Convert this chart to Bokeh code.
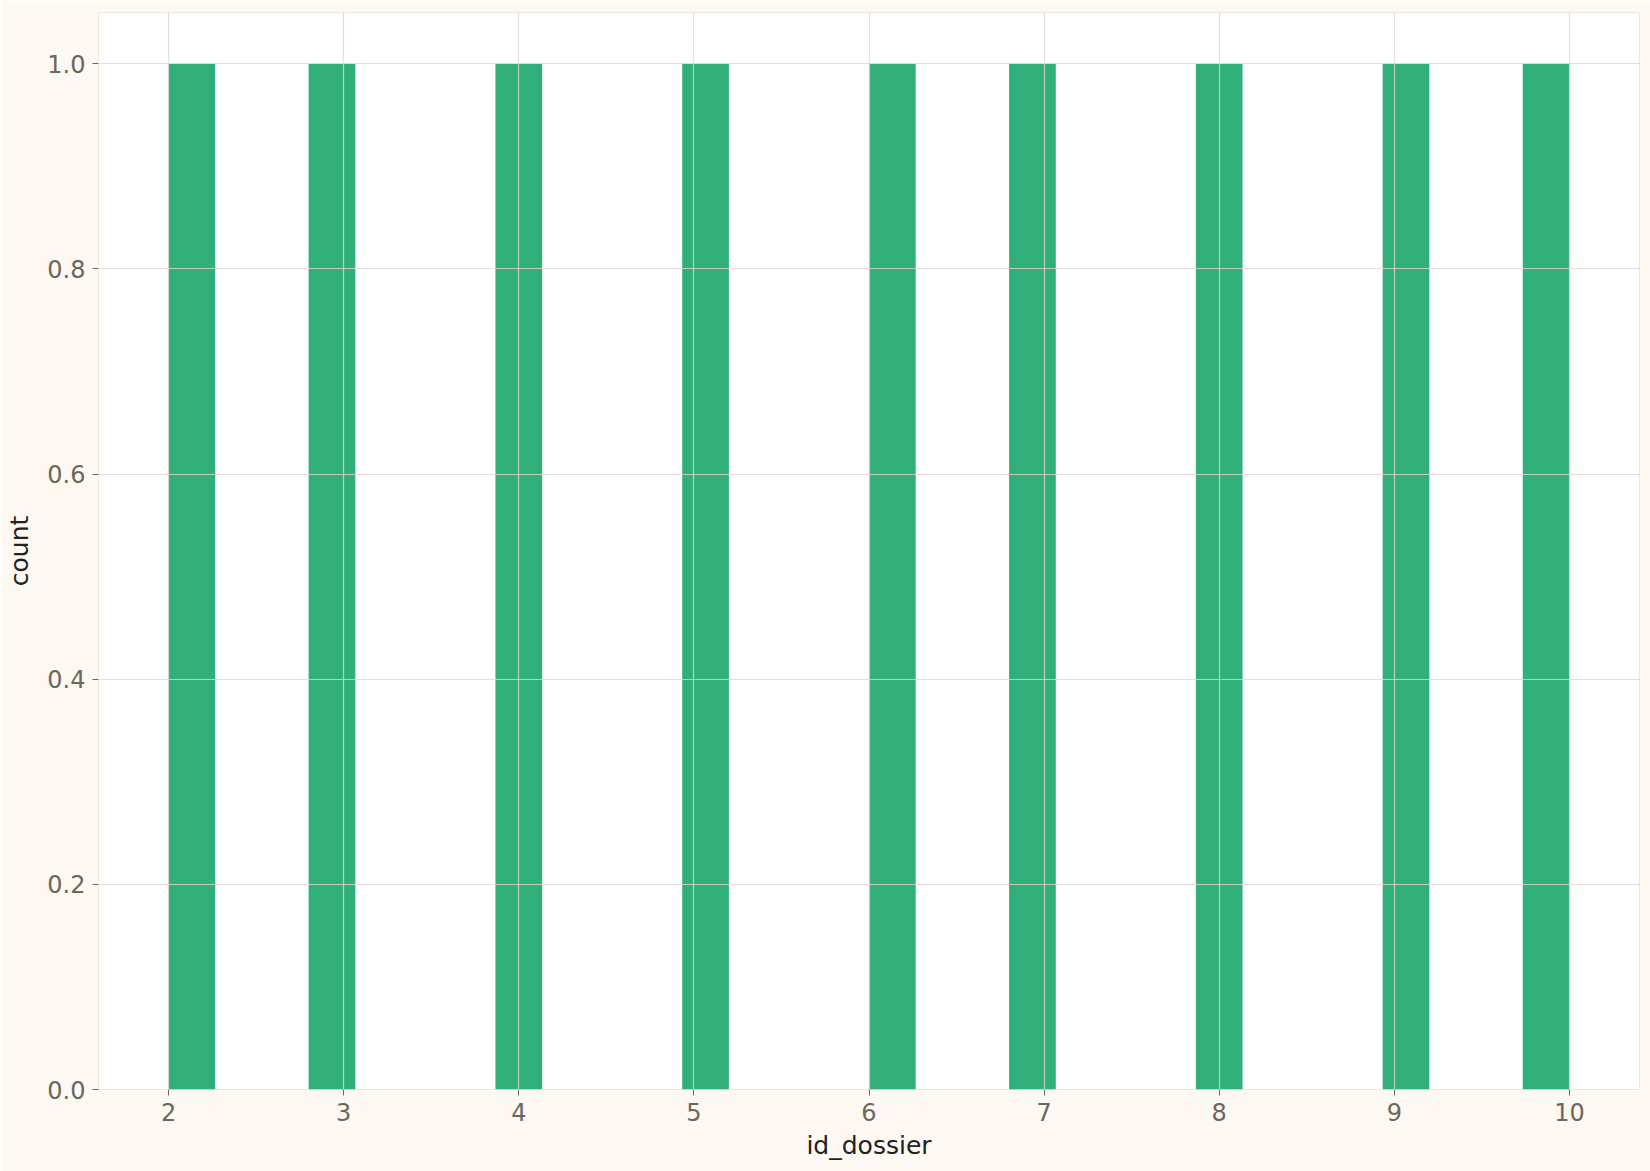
import numpy as np
from bokeh.plotting import figure
from bokeh.models import SingleIntervalTicker, Range1d, ColumnDataSource, PrintfTickFormatter
from bokeh.embed import file_html
from bokeh.resources import INLINE

# data
id_dossier = [2, 3, 4, 5, 6, 7, 8, 9, 10]
n_bins = 30
x_label = "id_dossier"
y_label = "count"

counts, edges = np.histogram(id_dossier, bins=n_bins)
src = ColumnDataSource(dict(left=edges[:-1], right=edges[1:], top=counts, bottom=np.zeros_like(counts)))

FONT = "DejaVu Sans"
p = figure(width=1650, height=1171, output_backend="svg", toolbar_location=None,
           x_range=Range1d(1.6, 10.4), y_range=Range1d(0, 1.05),
           min_border_left=98, min_border_right=11, min_border_top=12, min_border_bottom=82)
p.background_fill_color = "white"
p.border_fill_color = "#fdf8f1"
p.outline_line_color = "#eee6de"

p.quad(left="left", right="right", top="top", bottom="bottom", source=src,
       fill_color="#31af7b", line_color=None)

p.xaxis.ticker = SingleIntervalTicker(interval=1)
p.yaxis.ticker = SingleIntervalTicker(interval=0.2)
p.xgrid.ticker = SingleIntervalTicker(interval=1)
p.ygrid.ticker = SingleIntervalTicker(interval=0.2)
p.yaxis.formatter = PrintfTickFormatter(format="%.1f")

for g in (p.xgrid, p.ygrid):
    g.grid_line_color = "#e2d6cc"
    g.grid_line_alpha = 0.8
    g.grid_line_width = 1.2
    g.level = "overlay"

for ax in (p.xaxis, p.yaxis):
    ax.axis_line_color = None
    ax.major_tick_line_color = "#6b675c"
    ax.major_tick_out = 6
    ax.major_tick_in = 0
    ax.minor_tick_line_color = None
    ax.major_label_text_font = FONT
    ax.major_label_text_font_size = "24px"
    ax.major_label_text_color = "#6b675c"
    ax.axis_label_text_font = FONT
    ax.axis_label_text_font_size = "25px"
    ax.axis_label_text_font_style = "normal"
    ax.axis_label_text_color = "#222222"
    ax.major_label_standoff = 7

p.xaxis.axis_label = x_label
p.yaxis.axis_label = y_label
p.xaxis.axis_label_standoff = 7
p.yaxis.axis_label_standoff = 10

open("out.html", "w").write(file_html(p, INLINE))
